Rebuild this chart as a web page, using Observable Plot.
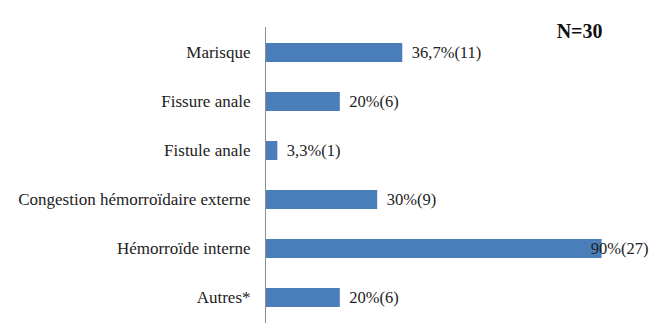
<!DOCTYPE html>
<html>
<head>
<meta charset="utf-8">
<script src="https://cdn.jsdelivr.net/npm/d3@7"></script>
<script src="https://cdn.jsdelivr.net/npm/@observablehq/plot@0.6"></script>
<style>
  html, body { margin: 0; padding: 0; background: #fff; }
  #chart svg, #chart svg text { font-family: "Liberation Serif", "Times New Roman", serif !important; }
</style>
</head>
<body>
<div id="chart"></div>
<script>
const categories = ["Marisque", "Fissure anale", "Fistule anale", "Congestion hémorroïdaire externe", "Hémorroïde interne", "Autres*"];
const percents = [36.7, 20, 3.3, 30, 90, 20];
const counts = [11, 6, 1, 9, 27, 6];
const totalLabel = "N=30";

const data = categories.map((c, i) => ({
  cat: c,
  pct: percents[i],
  label: `${String(percents[i]).replace(".", ",")}%(${counts[i]})`
}));

const font = "Liberation Serif";

const chart = Plot.plot({
  width: 652,
  height: 323,
  marginLeft: 265,
  marginRight: 13,
  marginTop: 27,
  marginBottom: 0,
  x: { domain: [0, 100], axis: null },
  y: { domain: categories, paddingInner: 0.62, paddingOuter: 0.31, label: null, tickSize: 0, tickPadding: 15 },
  style: { fontFamily: font, fontSize: "17px", color: "#222", background: "white" },
  marks: [
    Plot.barX(data, { x: "pct", y: "cat", fill: "#4a7ebb" }),
    Plot.ruleX([0], { stroke: "#8c8c8c", strokeWidth: 1 }),
    Plot.text(data.filter(d => d.pct < 80), { x: "pct", y: "cat", text: "label", textAnchor: "start", dx: 9, fontSize: 16.5, fontFamily: font, fill: "#222" }),
    Plot.text(data.filter(d => d.pct >= 80), { y: "cat", text: "label", frameAnchor: "right", textAnchor: "end", dx: 9, fontSize: 16.5, fontFamily: font, fill: "#222" }),
    Plot.text([totalLabel], { frameAnchor: "top-right", textAnchor: "end", dx: -37, dy: -4, fontSize: 20, fontWeight: "bold", fontFamily: font, fill: "#111" })
  ]
});

document.getElementById("chart").appendChild(chart);
</script>
</body>
</html>
